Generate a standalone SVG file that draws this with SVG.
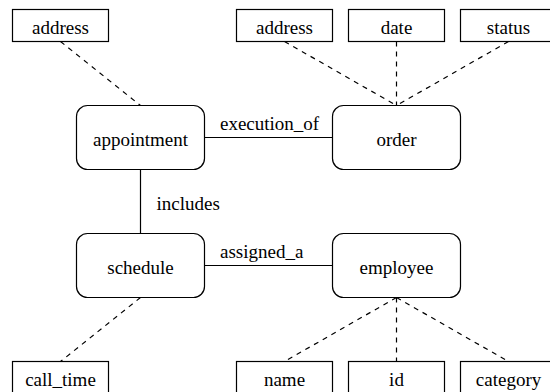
<svg xmlns="http://www.w3.org/2000/svg" width="550" height="392" viewBox="0 0 550 392" font-family="Liberation Serif, Times New Roman, serif" font-size="19">
<style>
text{fill:#000;text-anchor:middle}
.ent{fill:#fff;stroke:#000;stroke-width:1.2}
.attr{fill:#fff;stroke:#000;stroke-width:1.2}
.rel{stroke:#000;stroke-width:1.2;fill:none}
.dash{stroke:#000;stroke-width:1.2;fill:none;stroke-dasharray:5,5}
.lbl{text-anchor:start}
</style>
<rect width="550" height="392" fill="#fff"/>
<g id="connectors">
<line class="rel" x1="204.5" y1="137.5" x2="332.5" y2="137.5"/>
<line class="rel" x1="140.5" y1="169.5" x2="140.5" y2="233.5"/>
<line class="rel" x1="204.5" y1="265.5" x2="332.5" y2="265.5"/>
<line class="dash" x1="60.5" y1="41.5" x2="140.5" y2="105.5"/>
<line class="dash" x1="284.5" y1="41.5" x2="396.5" y2="105.5"/>
<line class="dash" x1="396.5" y1="41.5" x2="396.5" y2="105.5"/>
<line class="dash" x1="508.5" y1="41.5" x2="396.5" y2="105.5"/>
<line class="dash" x1="140.5" y1="297.5" x2="60.5" y2="361.5"/>
<line class="dash" x1="396.5" y1="297.5" x2="284.5" y2="361.5"/>
<line class="dash" x1="396.5" y1="297.5" x2="396.5" y2="361.5"/>
<line class="dash" x1="396.5" y1="297.5" x2="508.5" y2="361.5"/>
<text class="lbl" x="220" y="129.5">execution_of</text>
<text class="lbl" x="156.5" y="209.5">includes</text>
<text class="lbl" x="220" y="257.5">assigned_a</text>
</g>
<g id="attr-appointment-address"><rect class="attr" x="12.5" y="9.5" width="96" height="32"/><text x="60.5" y="33.5">address</text></g>
<g id="attr-order-address"><rect class="attr" x="236.5" y="9.5" width="96" height="32"/><text x="284.5" y="33.5">address</text></g>
<g id="attr-date"><rect class="attr" x="348.5" y="9.5" width="96" height="32"/><text x="396.5" y="33.5">date</text></g>
<g id="attr-status"><rect class="attr" x="460.5" y="9.5" width="96" height="32"/><text x="508.5" y="33.5">status</text></g>
<g id="appointment"><rect class="ent" x="76.5" y="105.5" width="128" height="64" rx="11" ry="11"/><text x="140.5" y="146">appointment</text></g>
<g id="order"><rect class="ent" x="332.5" y="105.5" width="128" height="64" rx="11" ry="11"/><text x="396.5" y="146">order</text></g>
<g id="schedule"><rect class="ent" x="76.5" y="233.5" width="128" height="64" rx="11" ry="11"/><text x="140.5" y="274">schedule</text></g>
<g id="employee"><rect class="ent" x="332.5" y="233.5" width="128" height="64" rx="11" ry="11"/><text x="396.5" y="274">employee</text></g>
<g id="attr-call_time"><rect class="attr" x="12.5" y="361.5" width="96" height="32"/><text x="60.5" y="385.5">call_time</text></g>
<g id="attr-name"><rect class="attr" x="236.5" y="361.5" width="96" height="32"/><text x="284.5" y="385.5">name</text></g>
<g id="attr-id"><rect class="attr" x="348.5" y="361.5" width="96" height="32"/><text x="396.5" y="385.5">id</text></g>
<g id="attr-category"><rect class="attr" x="460.5" y="361.5" width="96" height="32"/><text x="508.5" y="385.5">category</text></g>
</svg>
